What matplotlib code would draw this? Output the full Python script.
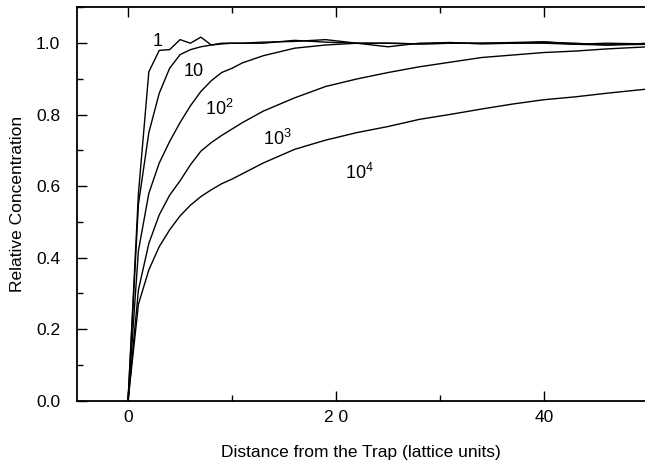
import matplotlib
matplotlib.use("Agg")
import matplotlib.pyplot as plt
from matplotlib.ticker import MultipleLocator

plt.rcParams["font.family"] = ["Liberation Sans", "DejaVu Sans"]
plt.rcParams["mathtext.fontset"] = "custom"
plt.rcParams["mathtext.rm"] = "Liberation Sans"
plt.rcParams["mathtext.it"] = "Liberation Sans"

# distance from the trap (lattice units)
distance = [0, 1, 2, 3, 4, 5, 6, 7, 8, 9, 10, 11, 13, 16, 19, 22, 25,
            28, 31, 34, 37, 40, 43, 46, 50]

# relative concentration for each curve
conc_1 = [0, 0.58, 0.92, 0.98, 0.982, 1.01, 1.0, 1.017, 0.995, 1.0, 1.0,
          1.0, 1.003, 1.005, 1.01, 1.0, 0.99, 1.0, 1.002, 0.998, 1.0,
          1.003, 1.0, 0.995, 1.0]
conc_10 = [0, 0.55, 0.75, 0.86, 0.93, 0.968, 0.982, 0.99, 0.995, 0.998,
           1.0, 1.0, 1.0, 1.008, 1.003, 1.0, 1.0, 0.998, 1.0, 1.0, 1.002,
           1.004, 0.997, 1.0, 0.998]
conc_100 = [0, 0.42, 0.58, 0.665, 0.725, 0.778, 0.825, 0.865, 0.895,
            0.918, 0.93, 0.945, 0.965, 0.986, 0.995, 1.0, 1.0, 0.998,
            1.0, 1.0, 1.0, 1.0, 0.997, 0.995, 0.997]
conc_1000 = [0, 0.31, 0.44, 0.52, 0.575, 0.615, 0.66, 0.698, 0.722, 0.742,
             0.76, 0.778, 0.81, 0.847, 0.879, 0.90, 0.918, 0.934, 0.947,
             0.96, 0.967, 0.974, 0.978, 0.984, 0.99]
conc_10000 = [0, 0.27, 0.366, 0.431, 0.478, 0.517, 0.547, 0.571, 0.59,
              0.607, 0.62, 0.635, 0.665, 0.703, 0.729, 0.75, 0.767, 0.787,
              0.801, 0.816, 0.83, 0.842, 0.85, 0.86, 0.872]

curves = [conc_1, conc_10, conc_100, conc_1000, conc_10000]
curve_labels = ["1", "10", "$10^2$", "$10^3$", "$10^4$"]
label_x = [2.8, 6.3, 8.8, 14.4, 22.2]
label_y = [1.006, 0.922, 0.817, 0.732, 0.637]

xticks = [0, 20, 40]
xtick_labels = ["0", "2 0", "40"]

fig = plt.figure(figsize=(6.45, 4.66), dpi=100)
ax = fig.add_axes([0.119, 0.140, 0.881, 0.844])

for conc in curves:
    ax.plot(distance, conc, color="black", linewidth=1.0)

for txt, lx, ly in zip(curve_labels, label_x, label_y):
    ax.text(lx, ly, txt, fontsize=13, ha="center", va="center")

ax.set_xlim(-4.93, 49.7)
ax.set_ylim(0, 1.1)
ax.set_xticks(xticks)
ax.set_xticklabels(xtick_labels)
ax.xaxis.set_minor_locator(MultipleLocator(10))
ax.set_yticks([0.0, 0.2, 0.4, 0.6, 0.8, 1.0])
ax.set_yticklabels(["0.0", "0.2", "0.4", "0.6", "0.8", "1.0"])
ax.yaxis.set_minor_locator(MultipleLocator(0.1))

ax.tick_params(which="both", direction="in", top=True, right=False,
               labelsize=12.5, width=1.0)
ax.tick_params(which="major", length=7)
ax.tick_params(axis="x", which="major", pad=7)
ax.tick_params(axis="y", which="major", pad=12)
ax.tick_params(which="minor", length=4)
ax.spines["right"].set_visible(False)
for side in ["left", "bottom", "top"]:
    ax.spines[side].set_linewidth(1.3)

ax.set_xlabel("Distance from the Trap (lattice units)", fontsize=12.5,
              labelpad=14)
ax.set_ylabel("Relative Concentration", fontsize=12.5, labelpad=8)

fig.savefig("out.png", dpi=100)
